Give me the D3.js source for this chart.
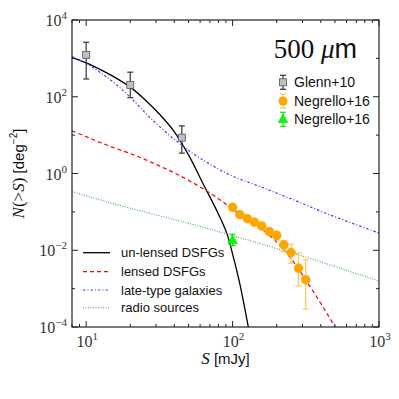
<!DOCTYPE html>
<html><head><meta charset="utf-8">
<script src="https://cdn.jsdelivr.net/npm/d3@7"></script>
<style>body{margin:0;background:#fff}svg{display:block}</style>
</head><body>
<script>
// ---- data ----
const unlensedS = [8, 10, 12.6, 15.8, 20, 25.1, 31.6, 39.8, 50.1, 63.1, 79.4, 91.2, 100, 112, 128, 141];
const unlensedN = [1047, 759, 501, 316, 178, 85.1, 35.5, 12.6, 3.02, 0.525, 0.0933, 0.0279, 0.00794, 0.00135, 0.0001, 0.0000126];
const lensedS = [8, 10, 12.6, 15.8, 20, 25.1, 31.6, 39.8, 50.1, 63.1, 79.4, 100, 126, 158, 200, 251, 316, 398, 501, 631];
const lensedN = [12.9, 9.12, 6.31, 4.57, 3.31, 2.34, 1.58, 1.05, 0.661, 0.398, 0.224, 0.120, 0.0661, 0.0355, 0.0166, 0.00603, 0.00166, 0.000427, 0.0001, 0.0000224];
const lateS = [8, 10, 12.6, 15.8, 20, 27.4, 42.7, 60, 96.2, 154, 251, 463, 1000];
const lateN = [1122, 741, 417, 219, 97.7, 28.2, 6.31, 2.51, 0.912, 0.457, 0.219, 0.0832, 0.0282];
const radioS = [8, 15.8, 31.6, 63.1, 100, 158, 316, 631, 1000];
const radioN = [0.339, 0.158, 0.0794, 0.0398, 0.024, 0.0145, 0.00661, 0.00282, 0.00158];

const glennS = [10, 20, 45];
const glennN = [1230, 204, 8.6];
const glennLo = [290, 95, 3.4];
const glennHi = [2630, 437, 17.4];

const negS = [100, 112, 126, 141, 158, 178, 200, 224, 251, 282, 316];
const negN = [0.132, 0.085, 0.067, 0.054, 0.043, 0.0307, 0.0242, 0.0138, 0.0087, 0.0034, 0.0017];
const negLo = [0.118, 0.075, 0.058, 0.046, 0.036, 0.026, 0.0187, 0.0093, 0.0046, 0.00118, 0.000295];
const negHi = [0.148, 0.096, 0.077, 0.063, 0.051, 0.036, 0.031, 0.0179, 0.0145, 0.0084, 0.0056];

const neg2S = [100];
const neg2N = [0.0183];
const neg2Lo = [0.0133];
const neg2Hi = [0.0263];

const xMajor = [10, 100, 1000];
const xMinor = [8, 9, 20, 30, 40, 50, 60, 70, 80, 90, 200, 300, 400, 500, 600, 700, 800, 900];
const xLabelExp = ["1", "2", "3"];
const yMajor = [1e-4, 1e-2, 1, 1e2, 1e4];
const yLabelExp = ["−4", "−2", "0", "2", "4"];
const yMinor = [1e-3, 1e-1, 10, 1e3];

const lineNames = ["un-lensed DSFGs", "lensed DSFGs", "late-type galaxies", "radio sources"];
const pointNames = ["Glenn+10", "Negrello+16", "Negrello+16"];

// ---- drawing ----
const W = 399, H = 399;
const L = 72, R = 379, T = 20, B = 327;
const x = d3.scaleLog().domain([8, 1000]).range([L, R]);
const y = d3.scaleLog().domain([1e-4, 1e4]).range([B, T]);

const svg = d3.select("body").append("svg").attr("width", W).attr("height", H);
svg.append("defs").append("clipPath").attr("id", "clip")
  .append("rect").attr("x", L).attr("y", T).attr("width", R - L).attr("height", B - T);

const serif = "'Liberation Serif','DejaVu Serif',serif";
const sans = "'Liberation Sans','DejaVu Sans',sans-serif";

const g = svg.append("g").attr("clip-path", "url(#clip)");
const line = d3.line().x(d => x(d[0])).y(d => y(d[1])).curve(d3.curveCatmullRom.alpha(0.5));
const zip = (a, b) => a.map((v, i) => [v, b[i]]);

const styles = [
  {S: unlensedS, N: unlensedN, color: "#000000", dash: null, w: 1.3},
  {S: lensedS, N: lensedN, color: "#ff0000", dash: "4,3", w: 1.2},
  {S: lateS, N: lateN, color: "#3344ff", dash: "2.5,2,1,2", w: 1.2},
  {S: radioS, N: radioN, color: "#44aa44", dash: "1,1.5", w: 1.1}
];
styles.forEach(s => {
  g.append("path").attr("d", line(zip(s.S, s.N))).attr("fill", "none")
    .attr("stroke", s.color).attr("stroke-width", s.w)
    .attr("stroke-dasharray", s.dash);
});

function errorbars(S, N, Lo, Hi, color, cap) {
  S.forEach((s, i) => {
    const cx = x(s);
    g.append("line").attr("x1", cx).attr("x2", cx).attr("y1", y(Lo[i])).attr("y2", y(Hi[i]))
      .attr("stroke", color).attr("stroke-width", 1.2);
    [Lo[i], Hi[i]].forEach(v => g.append("line").attr("x1", cx - cap).attr("x2", cx + cap)
      .attr("y1", y(v)).attr("y2", y(v)).attr("stroke", color).attr("stroke-width", 1.2));
  });
}
errorbars(glennS, glennN, glennLo, glennHi, "#333333", 3);
glennS.forEach((s, i) => g.append("rect").attr("x", x(s) - 3.5).attr("y", y(glennN[i]) - 3.5)
  .attr("width", 7).attr("height", 7).attr("fill", "#c0c0c0").attr("stroke", "#555").attr("stroke-width", 0.8));

errorbars(negS, negN, negLo, negHi, "#ffc35a", 3);
negS.forEach((s, i) => g.append("circle").attr("cx", x(s)).attr("cy", y(negN[i])).attr("r", 4.5)
  .attr("fill", "#ffa500").attr("stroke", "#ffa500").attr("stroke-width", 0.5));

errorbars(neg2S, neg2N, neg2Lo, neg2Hi, "#00ee00", 3);
const tri = d3.symbol().type(d3.symbolTriangle).size(40);
neg2S.forEach((s, i) => g.append("path").attr("d", tri()).attr("transform", `translate(${x(s)},${y(neg2N[i]) + 0.5})`)
  .attr("fill", "#00ff00").attr("stroke", "#00cc00").attr("stroke-width", 0.5));

// frame
svg.append("rect").attr("x", L).attr("y", T).attr("width", R - L).attr("height", B - T)
  .attr("fill", "none").attr("stroke", "#222").attr("stroke-width", 1.2);

// ticks (inward, all four sides)
const tk = svg.append("g").attr("stroke", "#222").attr("stroke-width", 1);
function xt(v, len) {
  tk.append("line").attr("x1", x(v)).attr("x2", x(v)).attr("y1", B).attr("y2", B - len);
  tk.append("line").attr("x1", x(v)).attr("x2", x(v)).attr("y1", T).attr("y2", T + len);
}
function yt(v, len) {
  tk.append("line").attr("y1", y(v)).attr("y2", y(v)).attr("x1", L).attr("x2", L + len);
  tk.append("line").attr("y1", y(v)).attr("y2", y(v)).attr("x1", R).attr("x2", R - len);
}
xMajor.forEach(v => xt(v, 6)); xMinor.forEach(v => xt(v, 3));
yMajor.forEach(v => yt(v, 6)); yMinor.forEach(v => yt(v, 3));

// tick labels
xMajor.forEach((v, i) => {
  const t = svg.append("text").attr("x", x(v) + 1).attr("y", 347).attr("text-anchor", "middle")
    .attr("font-family", serif).attr("font-size", 16).attr("fill", "#333");
  t.append("tspan").text("10");
  t.append("tspan").attr("dy", -7).attr("font-size", 11).text(xLabelExp[i]);
});
yMajor.forEach((v, i) => {
  const t = svg.append("text").attr("x", 67).attr("y", y(v) + 6).attr("text-anchor", "end")
    .attr("font-family", serif).attr("font-size", 16).attr("fill", "#333");
  t.append("tspan").text("10");
  t.append("tspan").attr("dy", -7).attr("font-size", 11).text(yLabelExp[i]);
});

// axis labels
const xl = svg.append("text").attr("x", (L + R) / 2).attr("y", 364).attr("text-anchor", "middle")
  .attr("font-size", 17).attr("fill", "#111");
xl.append("tspan").attr("font-family", serif).attr("font-style", "italic").text("S ");
xl.append("tspan").attr("font-family", sans).attr("font-size", 15).text("[mJy]");

const yl = svg.append("text").attr("transform", `translate(24,${(T + B) / 2}) rotate(-90)`)
  .attr("text-anchor", "middle").attr("font-size", 17).attr("fill", "#111");
yl.append("tspan").attr("font-family", serif).attr("font-style", "italic").text("N");
yl.append("tspan").attr("font-family", serif).text("(>");
yl.append("tspan").attr("font-family", serif).attr("font-style", "italic").text("S");
yl.append("tspan").attr("font-family", serif).text(") ");
yl.append("tspan").attr("font-family", sans).attr("font-size", 15).text("[deg");
yl.append("tspan").attr("font-family", sans).attr("font-size", 10).attr("dy", -7).text("−2");
yl.append("tspan").attr("font-family", sans).attr("font-size", 15).attr("dy", 7).text("]");

// title "500 μm"
const tt = svg.append("text").attr("x", 357).attr("y", 58).attr("text-anchor", "end")
  .attr("font-size", 27).attr("fill", "#111");
tt.append("tspan").attr("font-family", serif).text("500 ");
tt.append("tspan").attr("font-family", serif).attr("font-style", "italic").text("μ");
tt.append("tspan").attr("font-family", sans).text("m");

// points legend
const pl = [82.3, 101, 119.3];
const lx = 283;
[["#333333"], ["#ffc35a"], ["#00ee00"]].forEach((c, i) => {
  svg.append("line").attr("x1", lx).attr("x2", lx).attr("y1", pl[i] - 7).attr("y2", pl[i] + 7)
    .attr("stroke", c[0]).attr("stroke-width", 1.2);
  [-7, 7].forEach(d => svg.append("line").attr("x1", lx - 3).attr("x2", lx + 3)
    .attr("y1", pl[i] + d).attr("y2", pl[i] + d).attr("stroke", c[0]).attr("stroke-width", 1.2));
});
svg.append("rect").attr("x", lx - 3.5).attr("y", pl[0] - 3.5).attr("width", 7).attr("height", 7)
  .attr("fill", "#c0c0c0").attr("stroke", "#555").attr("stroke-width", 0.8);
svg.append("circle").attr("cx", lx).attr("cy", pl[1]).attr("r", 4.5).attr("fill", "#ffa500");
svg.append("path").attr("d", tri()).attr("transform", `translate(${lx},${pl[2] + 0.5})`)
  .attr("fill", "#00ff00").attr("stroke", "#00cc00").attr("stroke-width", 0.5);
pointNames.forEach((n, i) => svg.append("text").attr("x", 294).attr("y", pl[i] + 5)
  .attr("font-family", sans).attr("font-size", 14).attr("fill", "#111").text(n));

// lines legend
const ll = [252.7, 271.7, 290, 307.7];
styles.forEach((s, i) => {
  svg.append("line").attr("x1", 83).attr("x2", 110).attr("y1", ll[i]).attr("y2", ll[i])
    .attr("stroke", s.color).attr("stroke-width", s.w).attr("stroke-dasharray", s.dash);
  svg.append("text").attr("x", 121).attr("y", ll[i] + 4.5).attr("font-family", sans)
    .attr("font-size", 13).attr("fill", "#111").text(lineNames[i]);
});
</script>
</body></html>
